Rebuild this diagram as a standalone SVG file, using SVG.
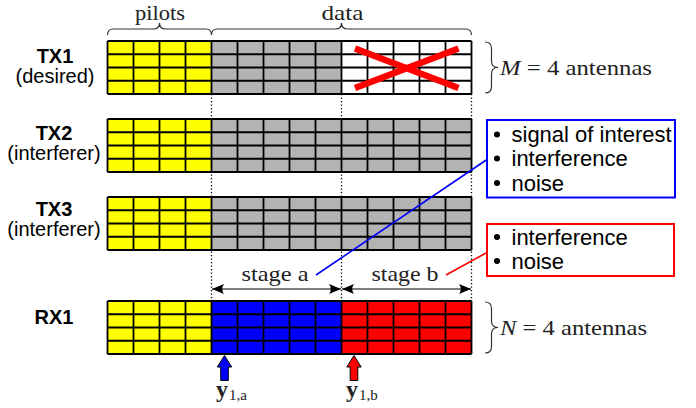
<svg xmlns="http://www.w3.org/2000/svg" xmlns:xlink="http://www.w3.org/1999/xlink" width="696" height="408" viewBox="0 0 696 408">
  <style>
    .sans { font-family: "Liberation Sans", Arial, sans-serif; fill: #000; }
    .lbl { font-size: 20px; text-anchor: middle; }
    .bold { font-weight: bold; }
    .serif { font-family: "Liberation Serif", "Times New Roman", serif; fill: #222; }
    .brace { fill: none; stroke: #333; stroke-width: 1.2; }
    .cells { fill: none; stroke: #000; stroke-width: 1.8; }
    .dotted { stroke: #000; stroke-width: 1.3; stroke-dasharray: 1.3 2.2; fill: none; }
    .stage { stroke: #555; stroke-width: 1.4; fill: none; }
    .yellow { fill: #ffff00; }
    .gray { fill: #b3b3b3; }
    .white { fill: #ffffff; }
    .blue { fill: #0000ff; }
    .red { fill: #ff0000; }
    .bullet-text { font-size: 22px; }
  </style>
  <defs>
    <!-- 14 x 4 resource-element grid, 26 px columns, 13.25 px rows -->
    <path id="grid" class="cells" d="M0,0 H364 M0,13.25 H364 M0,26.5 H364 M0,39.75 H364 M0,53 H364
      M0,0 V53 M26,0 V53 M52,0 V53 M78,0 V53 M104,0 V53 M130,0 V53 M156,0 V53 M182,0 V53
      M208,0 V53 M234,0 V53 M260,0 V53 M286,0 V53 M312,0 V53 M338,0 V53 M364,0 V53"/>
    <marker id="head" viewBox="-13 -6 14 12" markerWidth="14" markerHeight="12" refX="0" refY="0" orient="auto-start-reverse" markerUnits="userSpaceOnUse">
      <path d="M0,0 L-12,-5 Q-8.5,0 -12,5 Z" fill="#000"/>
    </marker>
    <path id="uparrow" d="M0,0 L7.2,11.5 L3.8,11.5 L3.8,25 L-3.8,25 L-3.8,11.5 L-7.2,11.5 Z" stroke="#000" stroke-width="1"/>
  </defs>

  <!-- top braces: pilots / data -->
  <g id="top-braces">
    <path class="brace" d="M107.5,35 q0,-6 6,-6 H153.5 q6,0 6,-6 q0,6 6,6 H205.5 q6,0 6,6"/>
    <path class="brace" d="M211.5,35 q0,-6 6,-6 H335.5 q6,0 6,-6 q0,6 6,6 H465.5 q6,0 6,6"/>
    <text class="serif" x="160" y="20" font-size="22" text-anchor="middle" textLength="50" lengthAdjust="spacingAndGlyphs">pilots</text>
    <text class="serif" x="342.5" y="20" font-size="22" text-anchor="middle" textLength="42" lengthAdjust="spacingAndGlyphs">data</text>
  </g>

  <!-- dotted column separators -->
  <g id="separators">
    <path class="dotted" d="M211.5,94 V301 M341.5,94 V301 M471.5,94 V301"/>
  </g>

  <g id="tx1">
    <text class="sans lbl bold" x="55" y="62.5">TX1</text>
    <text class="sans lbl" x="55" y="82.5">(desired)</text>
    <rect class="yellow" x="107.5" y="41" width="104" height="53"/>
    <rect class="gray" x="211.5" y="41" width="130" height="53"/>
    <rect class="white" x="341.5" y="41" width="130" height="53"/>
    <use xlink:href="#grid" x="107.5" y="41"/>
    <path d="M355,48.5 L458.5,88 M355,88 L458.5,48.5" stroke="#ff0000" stroke-width="6.5" fill="none"/>
  </g>

  <g id="tx2">
    <text class="sans lbl bold" x="54" y="139.5">TX2</text>
    <text class="sans lbl" x="54" y="159.5">(interferer)</text>
    <rect class="yellow" x="107.5" y="119" width="104" height="53"/>
    <rect class="gray" x="211.5" y="119" width="260" height="53"/>
    <use xlink:href="#grid" x="107.5" y="119"/>
  </g>

  <g id="tx3">
    <text class="sans lbl bold" x="54" y="216">TX3</text>
    <text class="sans lbl" x="54" y="236">(interferer)</text>
    <rect class="yellow" x="107.5" y="197" width="104" height="53"/>
    <rect class="gray" x="211.5" y="197" width="260" height="53"/>
    <use xlink:href="#grid" x="107.5" y="197"/>
  </g>

  <g id="rx1">
    <text class="sans lbl bold" x="54" y="323.5">RX1</text>
    <rect class="yellow" x="107.5" y="301" width="104" height="53"/>
    <rect class="blue" x="211.5" y="301" width="130" height="53"/>
    <rect class="red" x="341.5" y="301" width="130" height="53"/>
    <use xlink:href="#grid" x="107.5" y="301"/>
  </g>

  <!-- antenna braces -->
  <g id="tx-antennas">
    <path class="brace" d="M485,42 q6.5,0 6.5,6.5 V61 q0,6.5 6.5,6.5 q-6.5,0 -6.5,6.5 V86.5 q0,6.5 -6.5,6.5"/>
    <text class="serif" x="500" y="75" font-size="22" textLength="152" lengthAdjust="spacingAndGlyphs"><tspan font-style="italic">M</tspan> = 4 antennas</text>
  </g>
  <g id="rx-antennas">
    <path class="brace" d="M485,302 q6.5,0 6.5,6.5 V321 q0,6.5 6.5,6.5 q-6.5,0 -6.5,6.5 V346.5 q0,6.5 -6.5,6.5"/>
    <text class="serif" x="500" y="335" font-size="22" textLength="147" lengthAdjust="spacingAndGlyphs"><tspan font-style="italic">N</tspan> = 4 antennas</text>
  </g>

  <!-- stage spans -->
  <g id="stage-a">
    <path class="stage" d="M212,289 H341" marker-start="url(#head)" marker-end="url(#head)"/>
    <text class="serif" x="275" y="281" font-size="22" text-anchor="middle" textLength="67" lengthAdjust="spacingAndGlyphs">stage a</text>
  </g>
  <g id="stage-b">
    <path class="stage" d="M342,289 H471" marker-start="url(#head)" marker-end="url(#head)"/>
    <text class="serif" x="405" y="281" font-size="22" text-anchor="middle" textLength="67" lengthAdjust="spacingAndGlyphs">stage b</text>
  </g>

  <!-- component boxes -->
  <g id="box-a">
    <rect x="487" y="120" width="188" height="77.5" fill="#fff" stroke="#0000ff" stroke-width="2"/>
    <circle cx="497" cy="134.5" r="3"/>
    <circle cx="497" cy="158.5" r="3"/>
    <circle cx="497" cy="183" r="3"/>
    <text class="sans bullet-text" x="511.5" y="142">signal of interest</text>
    <text class="sans bullet-text" x="511.5" y="166">interference</text>
    <text class="sans bullet-text" x="511.5" y="190.5">noise</text>
  </g>
  <g id="box-b">
    <rect x="487" y="224" width="187" height="52" fill="#fff" stroke="#ff0000" stroke-width="2"/>
    <circle cx="497" cy="237" r="3"/>
    <circle cx="497" cy="261" r="3"/>
    <text class="sans bullet-text" x="511.5" y="244.5">interference</text>
    <text class="sans bullet-text" x="511.5" y="268.5">noise</text>
  </g>

  <!-- connectors -->
  <g id="connectors">
    <path d="M316,275 L487,159.5" stroke="#0000ff" stroke-width="1.6" fill="none"/>
    <path d="M446,275 L487,252.5" stroke="#ff0000" stroke-width="1.6" fill="none"/>
  </g>

  <!-- received signal markers -->
  <g id="y1a">
    <use xlink:href="#uparrow" x="224.5" y="355.5" fill="#0000ff"/>
    <text class="serif" x="216" y="397" font-size="24" font-weight="bold">y</text>
    <text class="serif" x="229" y="400" font-size="15">1,a</text>
  </g>
  <g id="y1b">
    <use xlink:href="#uparrow" x="354" y="355.5" fill="#ff0000"/>
    <text class="serif" x="346" y="397" font-size="24" font-weight="bold">y</text>
    <text class="serif" x="359" y="400" font-size="15">1,b</text>
  </g>
</svg>
